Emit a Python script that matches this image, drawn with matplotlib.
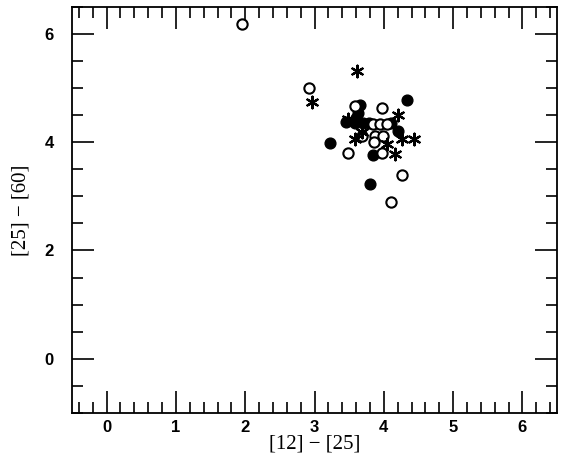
import matplotlib
matplotlib.use("Agg")
import matplotlib.pyplot as plt
from matplotlib.ticker import MultipleLocator

# open circles
open_x = [1.95, 2.92, 3.58, 3.97, 3.85, 3.95, 4.04, 3.68, 3.87, 3.99, 3.86, 3.49, 3.97, 4.27, 4.10]
open_y = [6.19, 5.00, 4.68, 4.64, 4.34, 4.34, 4.34, 4.12, 4.12, 4.12, 4.00, 3.81, 3.81, 3.40, 2.89]

# filled circles
fill_x = [4.33, 3.66, 3.63, 3.60, 3.46, 3.58, 3.70, 3.78, 4.11, 4.21, 3.22, 3.85, 3.80]
fill_y = [4.78, 4.69, 4.55, 4.45, 4.38, 4.35, 4.35, 4.35, 4.35, 4.22, 3.98, 3.77, 3.23]

# asterisks
star_x = [3.61, 2.96, 3.49, 3.68, 3.58, 4.21, 4.26, 4.43, 4.04, 4.16]
star_y = [5.32, 4.74, 4.44, 4.20, 4.06, 4.50, 4.07, 4.07, 3.97, 3.78]

x_ticks = [0, 1, 2, 3, 4, 5, 6]
y_ticks = [0, 2, 4, 6]

fig = plt.figure(figsize=(5.7, 4.65), dpi=100)
ax = fig.add_axes([72/570, 1 - 412.6/465, (557 - 72)/570, (412.6 - 7.3)/465])

ax.scatter(fill_x, fill_y, s=60, facecolor='black', edgecolor='black', linewidths=1.0, zorder=3)
ax.scatter(open_x, open_y, s=55, facecolor='white', edgecolor='black', linewidths=1.5, zorder=4)
ax.scatter(star_x, star_y, s=70, marker=(6, 2, 0), color='black', linewidths=1.6, zorder=5)

ax.set_xlim(-0.5, 6.5)
ax.set_ylim(-1, 6.5)
ax.set_xticks(x_ticks)
ax.set_yticks(y_ticks)
ax.xaxis.set_minor_locator(MultipleLocator(0.2))
ax.yaxis.set_minor_locator(MultipleLocator(0.5))
ax.tick_params(which='both', direction='in', top=True, right=True, width=1.2, color='black')
ax.tick_params(which='major', length=16)
ax.tick_params(which='minor', length=8)
ax.tick_params(axis='x', which='major', pad=5)
ax.tick_params(axis='y', which='major', pad=13)
for lab in ax.get_xticklabels() + ax.get_yticklabels():
    lab.set_fontfamily('Liberation Sans')
    lab.set_fontweight('bold')
    lab.set_fontsize(12)
for sp in ax.spines.values():
    sp.set_linewidth(1.3)

ax.set_xlabel('[12] − [25]', fontfamily='Liberation Serif', fontsize=15, labelpad=0)
ax.set_ylabel('[25] − [60]', fontfamily='Liberation Serif', fontsize=15, labelpad=10)

fig.savefig('out.png', dpi=100)
